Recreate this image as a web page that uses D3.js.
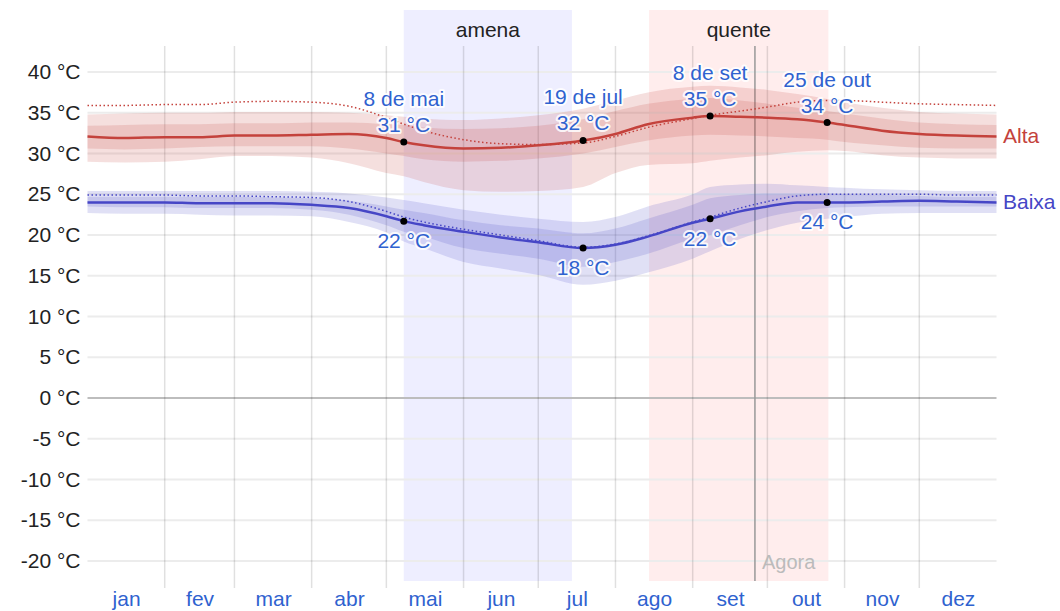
<!DOCTYPE html>
<html>
<head>
<meta charset="utf-8">
<script src="https://cdn.jsdelivr.net/npm/d3@7"></script>
<style>
  body { margin: 0; background: #fff; }
  svg { font-family: "Liberation Sans", Arial, sans-serif; }
</style>
</head>
<body>
<svg width="1060" height="611"></svg>
<script>
const days      = [0, 15, 31, 45, 59, 74, 90, 105, 120, 127, 135, 151, 166, 181, 199, 212, 225, 243, 250, 262, 273, 285, 297, 304, 319, 334, 349, 365];
const highMean  = [32.1, 31.9, 32.0, 32.0, 32.2, 32.2, 32.3, 32.4, 31.9, 31.4, 31.0, 30.6, 30.7, 31.0, 31.6, 32.4, 33.6, 34.4, 34.6, 34.5, 34.4, 34.2, 33.8, 33.5, 32.8, 32.4, 32.2, 32.1];
const highFeel  = [35.9, 35.9, 36.0, 36.0, 36.3, 36.4, 36.3, 35.8, 34.4, 33.6, 32.8, 31.7, 31.2, 31.1, 31.3, 32.1, 33.2, 34.3, 34.7, 35.2, 35.7, 36.3, 36.5, 36.5, 36.3, 36.1, 36.0, 35.9];
const highP90   = [34.8, 34.9, 35.0, 35.0, 35.1, 35.1, 35.1, 35.0, 34.7, 34.5, 34.3, 34.1, 34.3, 34.7, 35.5, 36.5, 37.5, 38.2, 38.3, 38.1, 37.8, 37.3, 36.7, 36.3, 35.6, 35.1, 34.9, 34.8];
const highP75   = [33.4, 33.5, 33.6, 33.6, 33.7, 33.7, 33.8, 33.8, 33.6, 33.5, 33.2, 33.0, 33.1, 33.4, 34.2, 35.2, 36.1, 36.7, 36.8, 36.5, 36.1, 35.6, 35.2, 34.9, 34.3, 33.8, 33.6, 33.5];
const highP25   = [30.6, 30.5, 30.6, 30.8, 30.9, 30.9, 30.9, 30.6, 30.0, 29.7, 29.3, 29.0, 29.1, 29.4, 30.0, 30.8, 31.6, 32.2, 32.3, 32.2, 32.1, 31.9, 31.7, 31.4, 31.0, 30.7, 30.6, 30.6];
const highP10   = [29.0, 28.9, 29.0, 29.3, 29.7, 29.7, 29.5, 28.8, 27.6, 27.2, 26.5, 25.5, 25.3, 25.4, 25.9, 27.6, 28.6, 28.8, 29.1, 29.5, 29.8, 30.2, 30.4, 30.3, 29.8, 29.5, 29.4, 29.4];
const lowMean   = [24.0, 24.0, 24.0, 23.9, 23.9, 23.9, 23.7, 23.3, 22.3, 21.7, 21.2, 20.4, 19.7, 19.1, 18.4, 18.8, 19.8, 21.5, 22.0, 22.9, 23.5, 24.0, 24.0, 24.0, 24.1, 24.2, 24.1, 24.0];
const lowFeel   = [24.9, 24.9, 24.9, 24.8, 24.8, 24.7, 24.6, 24.1, 22.9, 22.2, 21.6, 20.7, 20.0, 19.3, 18.5, 18.9, 19.9, 21.6, 22.2, 23.3, 24.1, 24.8, 25.0, 25.0, 25.0, 25.0, 24.9, 24.9];
const lowP90    = [25.4, 25.4, 25.4, 25.4, 25.4, 25.4, 25.3, 25.1, 24.6, 24.3, 23.9, 23.1, 22.5, 22.0, 21.6, 22.2, 23.5, 25.0, 25.9, 26.2, 26.3, 26.1, 25.9, 25.8, 25.6, 25.5, 25.4, 25.4];
const lowP75    = [24.7, 24.7, 24.7, 24.7, 24.7, 24.6, 24.5, 24.2, 23.5, 23.1, 22.7, 21.8, 21.2, 20.8, 20.2, 20.8, 22.0, 23.7, 24.5, 24.9, 25.1, 25.1, 25.1, 25.0, 24.9, 24.8, 24.7, 24.7];
const lowP25    = [23.5, 23.4, 23.4, 23.3, 23.3, 23.3, 23.1, 22.5, 21.2, 20.4, 19.8, 18.4, 17.7, 17.1, 16.1, 16.7, 17.7, 19.5, 20.0, 21.2, 22.2, 22.9, 23.3, 23.4, 23.5, 23.5, 23.5, 23.5];
const lowP10    = [22.7, 22.6, 22.6, 22.5, 22.4, 22.4, 22.3, 21.6, 20.3, 19.2, 18.4, 16.7, 15.9, 15.1, 13.9, 14.4, 15.4, 17.1, 18.0, 19.5, 20.6, 21.5, 22.0, 22.2, 22.6, 22.7, 22.7, 22.7];

const months      = ['jan', 'fev', 'mar', 'abr', 'mai', 'jun', 'jul', 'ago', 'set', 'out', 'nov', 'dez'];
const monthStarts = [0, 31, 59, 90, 120, 151, 181, 212, 243, 273, 304, 334, 365];
const yTicks      = [-20, -15, -10, -5, 0, 5, 10, 15, 20, 25, 30, 35, 40];

const seasons = [
  {name: 'amena', start: 127, end: 194.5, fill: '#eeeeff'},
  {name: 'quente', start: 225.5, end: 297.5, fill: '#ffeded'}
];
const nowDay = 268;
const annotations = [
  {day: 127, date: '8 de mai'},
  {day: 199, date: '19 de jul'},
  {day: 250, date: '8 de set'},
  {day: 297, date: '25 de out'}
];

const HIGH = '#c4423c', LOW = '#4646c6', TXT = '#2f62cf';

const svg = d3.select('svg');
const x = d3.scaleLinear().domain([0, 365]).range([87.5, 996.5]);
const y = d3.scaleLinear().domain([-20, 40]).range([561, 72]);
const plotTop = 46, plotBottom = 581;

// seasons
svg.selectAll('.season').data(seasons).enter()
  .append('rect')
  .attr('x', d => x(d.start))
  .attr('width', d => x(d.end) - x(d.start))
  .attr('y', 10)
  .attr('height', plotBottom - 10)
  .attr('fill', d => d.fill);
svg.selectAll('.season-label').data(seasons).enter()
  .append('text')
  .attr('x', d => (x(d.start) + x(d.end)) / 2)
  .attr('y', 37)
  .attr('text-anchor', 'middle')
  .attr('font-size', 21)
  .attr('fill', '#222')
  .text(d => d.name);

// grid
svg.append('g').selectAll('line').data(yTicks).enter()
  .append('line')
  .attr('x1', x(0)).attr('x2', x(365))
  .attr('y1', d => y(d)).attr('y2', d => y(d))
  .attr('stroke', d => d === 0 ? '#bdbdbd' : '#ececec')
  .attr('stroke-width', 2);
svg.append('g').selectAll('line').data(monthStarts.slice(1, 12)).enter()
  .append('line')
  .attr('x1', d => x(d)).attr('x2', d => x(d))
  .attr('y1', plotTop).attr('y2', 588)
  .attr('stroke', 'rgba(0,0,0,0.12)')
  .attr('stroke-width', 1.5);

// now line
svg.append('line')
  .attr('x1', x(nowDay)).attr('x2', x(nowDay))
  .attr('y1', plotTop).attr('y2', plotBottom)
  .attr('stroke', '#999').attr('stroke-width', 1.5);
svg.append('text')
  .attr('x', x(nowDay) + 7).attr('y', 569)
  .attr('font-size', 20).attr('fill', '#bbb')
  .text('Agora');

// axes
const yAxis = svg.append('g')
  .attr('transform', `translate(${x(0)},0)`)
  .call(d3.axisLeft(y).tickValues(yTicks).tickSize(0).tickPadding(7).tickFormat(d => d + ' °C'));
yAxis.select('.domain').remove();
yAxis.selectAll('text').attr('font-size', 21).attr('fill', '#222');
yAxis.attr('font-family', null);

const mids = months.map((m, i) => (monthStarts[i] + monthStarts[i + 1]) / 2);
const xAxis = svg.append('g')
  .attr('transform', `translate(0,${plotBottom})`)
  .call(d3.axisBottom(x).tickValues(mids).tickSize(0).tickPadding(10).tickFormat((d, i) => months[i]));
xAxis.select('.domain').remove();
xAxis.selectAll('text').attr('font-size', 21).attr('fill', TXT);
xAxis.attr('font-family', null);

// bands and lines
const pts = (a, b) => days.map((d, i) => ({d, a: a[i], b: b ? b[i] : null}));
const band = d3.area().curve(d3.curveMonotoneX).x(p => x(p.d)).y0(p => y(p.a)).y1(p => y(p.b));
const line = d3.line().curve(d3.curveMonotoneX).x(p => x(p.d)).y(p => y(p.a));

[[highP10, highP90, HIGH], [highP25, highP75, HIGH], [lowP10, lowP90, LOW], [lowP25, lowP75, LOW]]
  .forEach(([a, b, c]) => {
    svg.append('path').attr('d', band(pts(a, b))).attr('fill', c).attr('fill-opacity', 0.17);
  });

[[highFeel, HIGH], [lowFeel, LOW]].forEach(([a, c]) => {
  svg.append('path').attr('d', line(pts(a))).attr('fill', 'none')
    .attr('stroke', c).attr('stroke-width', 1.5).attr('stroke-dasharray', '1.5,2.5');
});
[[highMean, HIGH], [lowMean, LOW]].forEach(([a, c]) => {
  svg.append('path').attr('d', line(pts(a))).attr('fill', 'none')
    .attr('stroke', c).attr('stroke-width', 2.5);
});

// series labels
svg.append('text').attr('x', 1003).attr('y', y(highMean[highMean.length - 1]) + 7)
  .attr('font-size', 21).attr('fill', HIGH).text('Alta');
svg.append('text').attr('x', 1003).attr('y', y(lowMean[lowMean.length - 1]) + 7)
  .attr('font-size', 21).attr('fill', LOW).text('Baixa');

// annotations
const halo = sel => sel.attr('font-size', 21).attr('fill', TXT).attr('text-anchor', 'middle')
  .attr('stroke', 'rgba(255,255,255,0.85)').attr('stroke-width', 4)
  .attr('stroke-linejoin', 'round').attr('paint-order', 'stroke');

annotations.forEach(a => {
  const i = days.indexOf(a.day);
  const hx = x(a.day), hy = y(highMean[i]), ly = y(lowMean[i]);
  svg.append('text').attr('x', hx).attr('y', hy - 36).call(halo).text(a.date);
  svg.append('text').attr('x', hx).attr('y', hy - 10).call(halo).text(Math.round(highMean[i]) + ' °C');
  svg.append('text').attr('x', hx).attr('y', ly + 27).call(halo).text(Math.round(lowMean[i]) + ' °C');
  svg.append('circle').attr('cx', hx).attr('cy', hy).attr('r', 3.5).attr('fill', '#000');
  svg.append('circle').attr('cx', hx).attr('cy', ly).attr('r', 3.5).attr('fill', '#000');
});
</script>
</body>
</html>
